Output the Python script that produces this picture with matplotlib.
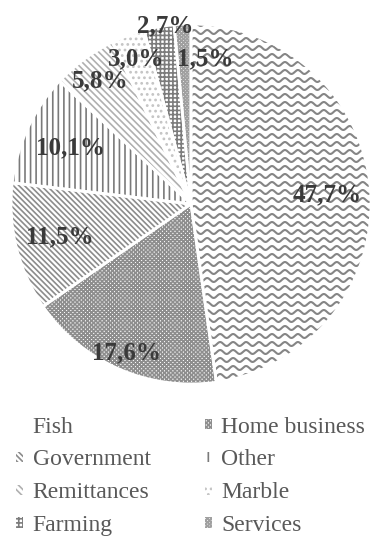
import numpy as np
import matplotlib.pyplot as plt

plt.rcParams['font.family'] = ['Liberation Serif', 'DejaVu Serif']
plt.rcParams['hatch.linewidth'] = 1.2

labels = ['Fish', 'Home business', 'Government', 'Other',
          'Remittances', 'Marble', 'Farming', 'Services']
shares = [47.7, 17.6, 11.5, 10.1, 5.8, 3.0, 2.7, 1.5]
pct_text = ['47,7%', '17,6%', '11,5%', '10,1%', '5,8%', '3,0%', '2,7%', '1,5%']

# fill patterns (Fish gets hand drawn waves below)
hatches = ['', 'xxxxxxxx', '\\' * 6, '|||', '\\' * 5, '...', '++++', 'xxxxxxxxx']
hatch_cols = ['#888888', '#8e8e8e', '#8c8c8c', '#7a7a7a',
              '#b0b0b0', '#c4c4c4', '#7c7c7c', '#a0a0a0']
# where the percentage labels sit: radius and angle nudge (deg)
lab_r = [0.76, 0.90, 0.75, 0.74, 0.85, 0.86, 1.0, 0.81]
lab_da = [0, 0, 0, 0, 0, 0, -2, -8.5]

fig = plt.figure(figsize=(3.74, 5.36), dpi=100)
ax = fig.add_axes([11/374, 151/536, 360/374, 362/536])

wedges, _ = ax.pie(shares, startangle=90, counterclock=False,
                   wedgeprops=dict(facecolor='white', linewidth=0))
for w, h, c in zip(wedges, hatches, hatch_cols):
    w.set_edgecolor(c)   # edge colour doubles as hatch colour
    w.set_linewidth(0)
    w.set_hatch(h)

# wavy texture for Fish
xs = np.linspace(-1, 1, 800)
for y0 in np.arange(-1.0, 1.05, 8/180):
    ln, = ax.plot(xs, y0 + 0.011*np.sin(2*np.pi*xs/0.072),
                  color='#858585', lw=1.5, zorder=2)
    ln.set_clip_path(wedges[0])

# white separators on top
borders, _ = ax.pie(shares, startangle=90, counterclock=False,
                    wedgeprops=dict(facecolor='none', edgecolor='white', linewidth=2))
for b in borders:
    b.set_zorder(3)

for w, t, r, da in zip(wedges, pct_text, lab_r, lab_da):
    ang = np.deg2rad((w.theta1 + w.theta2)/2 + da)
    ax.text(r*np.cos(ang), r*np.sin(ang), t, ha='center', va='center',
            fontsize=18, fontweight='bold', color='#3a3a3a', zorder=5)

ax.set_xlim(-1, 1)
ax.set_ylim(-1, 1)
ax.set_aspect('equal')
ax.axis('off')

order = [0, 2, 4, 6, 1, 3, 5, 7]
leg = fig.legend([wedges[i] for i in order], [labels[i] for i in order],
                 ncol=2, loc='lower left', bbox_to_anchor=(16/374, 0),
                 frameon=False, fontsize=17, handlelength=0.3, handleheight=0.3,
                 handletextpad=0.4, columnspacing=2.3, labelspacing=0.5,
                 borderpad=0, borderaxespad=0)
for t in leg.get_texts():
    t.set_color('#595959')

fig.savefig('out.png', dpi=100)
